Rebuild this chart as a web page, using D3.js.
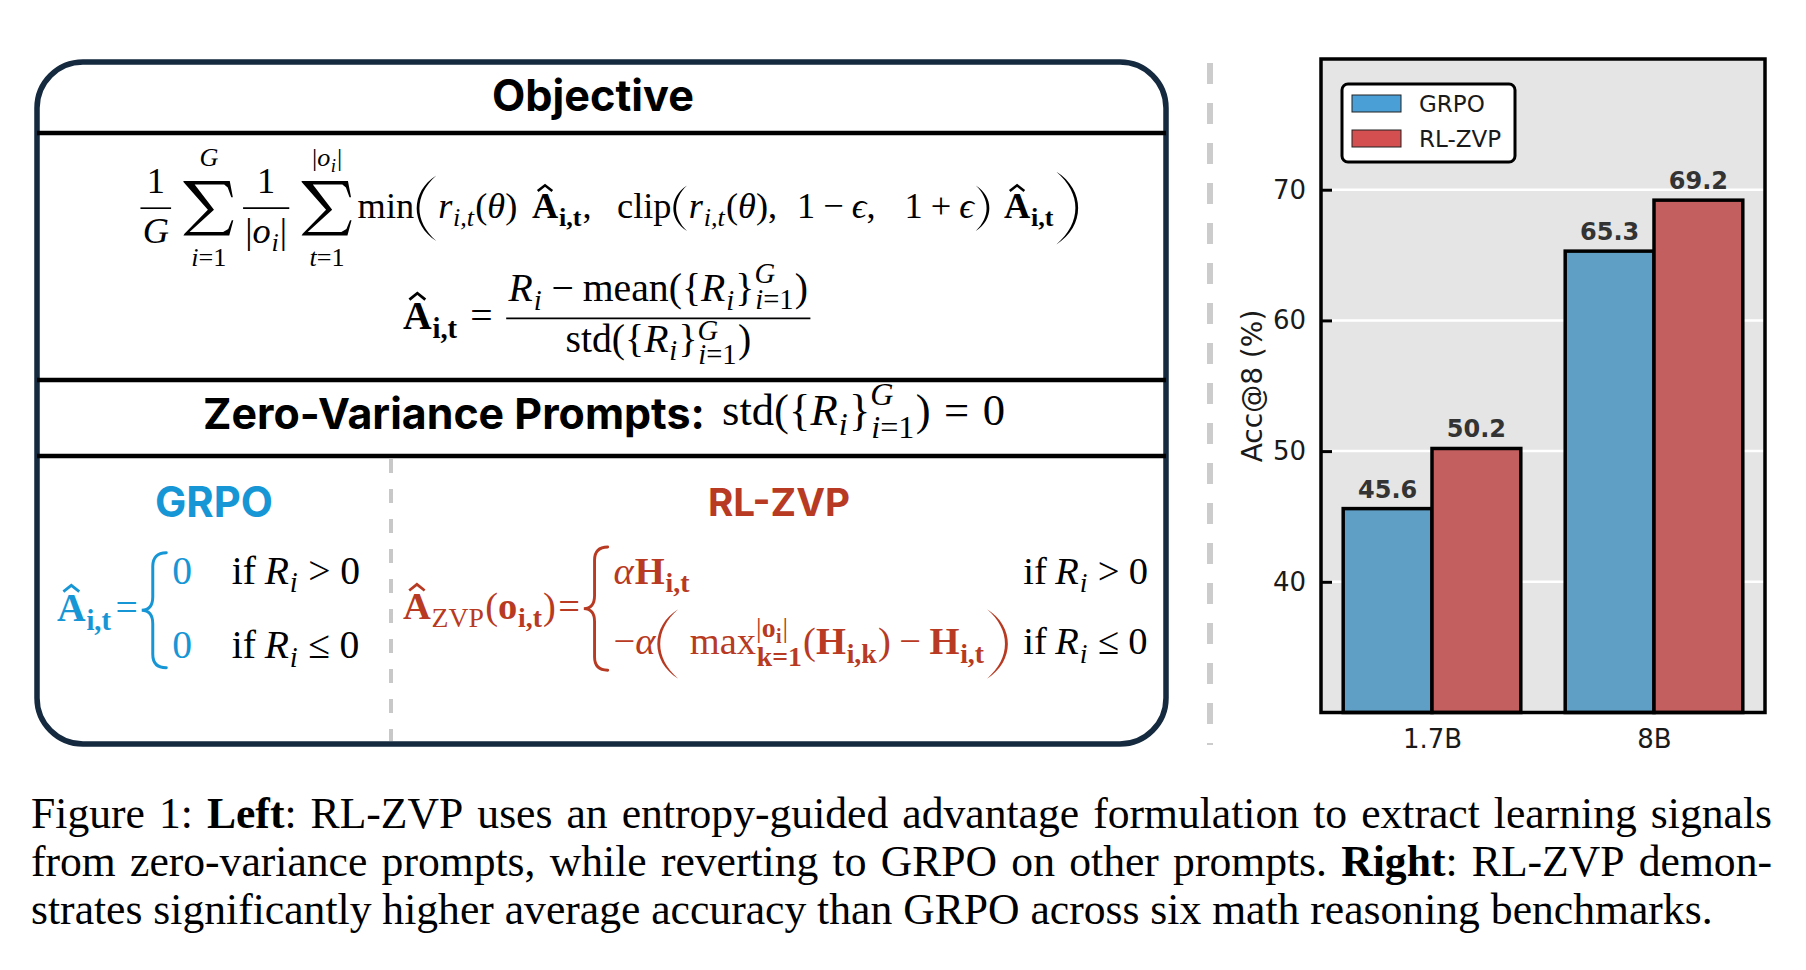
<!DOCTYPE html>
<html><head><meta charset="utf-8">
<script src="https://cdn.jsdelivr.net/npm/d3@7"></script>
<style>html,body{margin:0;padding:0;background:#fff;} svg{display:block;}</style>
</head><body>
<script>
// ---------------- data ----------------
const categories = ["1.7B", "8B"];
const seriesNames = ["GRPO", "RL-ZVP"];
const grpoValues = [45.6, 65.3];
const rlzvpValues = [50.2, 69.2];
const yTickValues = [40, 50, 60, 70];
const yDomain = [30, 80];
const yLabel = "Acc@8 (%)";
const captionLines = [
  "Figure 1: **Left**: RL-ZVP uses an entropy-guided advantage formulation to extract learning signals",
  "from zero-variance prompts, while reverting to GRPO on other prompts. **Right**: RL-ZVP demon-",
  "strates significantly higher average accuracy than GRPO across six math reasoning benchmarks."
];

// ---------------- setup ----------------
const W = 1806, H = 970;
const svg = d3.select("body").append("svg").attr("width", W).attr("height", H);
svg.append("rect").attr("width", W).attr("height", H).attr("fill", "#fff");

const MF = "'Liberation Serif','DejaVu Serif','Times New Roman',serif";
const SF = "Inter,'Liberation Sans',Arial,sans-serif";
const CF = "'DejaVu Sans',sans-serif";
const S = 28, AX = 0.27, SCR = 0.72;
const BLUE = "#1796d6", RED = "#b83a22";

// ---------------- mini math layout ----------------
function txt(g, s, x, y, sz, st, col) {
  const t = g.append("text").attr("x", x).attr("y", y)
    .attr("font-family", MF).attr("font-size", sz).attr("fill", col).text(s);
  if (st === "i" || st === "bi") t.attr("font-style", "italic");
  if (st === "b" || st === "bi") t.attr("font-weight", "bold");
  return t.node().getComputedTextLength();
}
function parenPath(dw, h, tk) {
  const co = -dw / 3, ci = (4 * tk - dw) / 3;
  return `M${dw},${-h/2} C${co},${-h*0.25} ${co},${h*0.25} ${dw},${h/2} C${ci},${h*0.2} ${ci},${-h*0.2} ${dw},${-h/2} Z`;
}
function bracePath(bw, h) {
  const m = bw * 0.45, r = bw * 0.55;
  return `M${bw},${-h/2} Q${m},${-h/2} ${m},${-h/2 + r} L${m},${-r} Q${m},0 0,0 Q${m},0 ${m},${r} L${m},${h/2 - r} Q${m},${h/2} ${bw},${h/2}`;
}
const SIGMA = [[0,0],[0.91,0],[0.97,0.30],[0.94,0.30],[0.87,0.12],[0.80,0.065],[0.22,0.065],[0.60,0.53],
  [0.12,0.935],[0.78,0.935],[0.88,0.88],[0.95,0.72],[0.98,0.72],[0.90,1],[0,1],[0.02,0.97],[0.48,0.53],[0,0.02]];
function lay(g, items, x, y, sz, col) {
  let cx = x;
  for (const it of items) {
    if (typeof it === "string") { cx += txt(g, it, cx, y, sz, "", col); continue; }
    const c = it.c || col;
    if (it.s !== undefined) { cx += it.s * sz; continue; }
    if (it.i !== undefined) { cx += txt(g, it.i, cx, y, sz, "i", c); continue; }
    if (it.b !== undefined) { cx += txt(g, it.b, cx, y, sz, "b", c); continue; }
    if (it.hat !== undefined) {
      const w = txt(g, it.hat, cx, y, sz, "b", c);
      const hx = cx + w / 2;
      g.append("path")
        .attr("d", `M${hx - 0.2*sz},${y - 0.74*sz} L${hx},${y - 0.9*sz} L${hx + 0.2*sz},${y - 0.74*sz}`)
        .attr("fill", "none").attr("stroke", c).attr("stroke-width", 0.07 * sz);
      cx += w; continue;
    }
    if (it.sub || it.sup) {
      const ss = sz * SCR;
      let w1 = 0, w2 = 0;
      const up = it.up !== undefined ? it.up : (it.sub ? 0.45 : 0.42);
      const dn = it.dn !== undefined ? it.dn : (it.sup ? 0.3 : 0.22);
      if (it.sup) w1 = lay(g, it.sup, cx, y - up * sz, ss, c);
      if (it.sub) w2 = lay(g, it.sub, cx + 0.02 * sz, y + dn * sz, ss, c) + 0.02 * sz;
      cx += Math.max(w1, w2) + 0.03 * sz; continue;
    }
    if (it.frac) {
      const yb = y - AX * sz;
      const gn = g.append("g"), gd = g.append("g");
      const wn = lay(gn, it.frac[0], 0, yb - (it.n || 0.42) * sz, sz, c);
      const wd = lay(gd, it.frac[1], 0, yb + (it.d || 0.95) * sz, sz, c);
      const pad = 0.1 * sz, w = Math.max(wn, wd) + 2 * pad;
      gn.attr("transform", `translate(${cx + (w - wn) / 2},0)`);
      gd.attr("transform", `translate(${cx + (w - wd) / 2},0)`);
      g.append("line").attr("x1", cx + pad * 0.4).attr("x2", cx + w - pad * 0.4)
        .attr("y1", yb).attr("y2", yb).attr("stroke", c).attr("stroke-width", 0.045 * sz);
      cx += w; continue;
    }
    if (it.sum) {
      const yb = y - AX * sz, sw = 1.4 * sz, sh = 1.5 * sz;
      const gt = g.append("g"), gb = g.append("g");
      const wt = lay(gt, it.top, 0, yb - 1.16 * sz, SCR * sz, c);
      const wb = lay(gb, it.bot, 0, yb + 1.58 * sz, SCR * sz, c);
      const w = Math.max(sw, wt, wb);
      const sx0 = cx + (w - sw) / 2, sy0 = yb - sh / 2;
      g.append("path").attr("fill", c)
        .attr("d", "M" + SIGMA.map(p => `${sx0 + p[0] * sw},${sy0 + p[1] * sh}`).join("L") + "Z");
      gt.attr("transform", `translate(${cx + (w - wt) / 2},0)`);
      gb.attr("transform", `translate(${cx + (w - wb) / 2},0)`);
      cx += w; continue;
    }
    if (it.paren) {
      const h = it.h * sz, dw = 0.3 * h, tk = 0.075 * sz, yb = y - AX * sz;
      const x0 = cx + 0.05 * sz;
      const p = g.append("path").attr("d", parenPath(dw, h, tk)).attr("fill", c);
      if (it.paren === "(") p.attr("transform", `translate(${x0},${yb})`);
      else p.attr("transform", `translate(${x0 + dw},${yb}) scale(-1,1)`);
      cx += dw + 0.1 * sz; continue;
    }
    if (it.cases) {
      const yb = y - AX * sz, h = it.h * sz, bw = 0.62 * sz;
      const x0 = cx + 0.05 * sz;
      g.append("path").attr("d", bracePath(bw, h)).attr("transform", `translate(${x0},${yb})`)
        .attr("fill", "none").attr("stroke", c).attr("stroke-width", 0.075 * sz)
        .attr("stroke-linecap", "round");
      const lx = x0 + bw + it.gap0 * sz;
      const n = it.rows.length;
      const rowY = i => y + (i - (n - 1) / 2) * 2 * it.rs * sz;
      let maxL = 0;
      it.rows.forEach((r, i) => { maxL = Math.max(maxL, lay(g, r.l, lx, rowY(i), sz, c)); });
      const rx = lx + maxL + it.gap * sz;
      let maxR = 0;
      it.rows.forEach((r, i) => { maxR = Math.max(maxR, lay(g, r.r, rx, rowY(i), sz, it.rc || c)); });
      cx = rx + maxR; continue;
    }
    if (it.grp) { cx += lay(g, it.grp, cx, y, sz, c); continue; }
  }
  return cx - x;
}
function formula(items, x0, x1, yb, col) {
  const g = svg.append("g");
  const w = lay(g, items, 0, 0, S, col);
  const k = (x1 - x0) / w;
  g.attr("transform", `translate(${x0},${yb}) scale(${k})`);
  return g;
}
function fitText(sel, width) {
  const w = sel.node().getComputedTextLength();
  sel.attr("font-size", +sel.attr("font-size") * width / w);
  return sel;
}

// ---------------- left panel box ----------------
const bx0 = 37, bx1 = 1166, by0 = 62, by1 = 744;
svg.append("rect").attr("x", bx0).attr("y", by0).attr("width", bx1 - bx0).attr("height", by1 - by0)
  .attr("rx", 46).attr("fill", "#fff").attr("stroke", "#15293f").attr("stroke-width", 5.5);
[133, 380, 456].forEach(yy => {
  svg.append("line").attr("x1", bx0).attr("x2", bx1).attr("y1", yy).attr("y2", yy)
    .attr("stroke", "#000").attr("stroke-width", 4.5);
});
svg.append("line").attr("x1", 391).attr("x2", 391).attr("y1", 459).attr("y2", 741)
  .attr("stroke", "#c8c8c8").attr("stroke-width", 4).attr("stroke-dasharray", "14,16");

// titles
const tObj = svg.append("text").attr("x", 593).attr("y", 111).attr("text-anchor", "middle")
  .attr("font-family", SF).attr("font-weight", 700).attr("font-size", 42).attr("fill", "#000").text("Objective");
fitText(tObj, 202);
const tZ = svg.append("text").attr("x", 203).attr("y", 429)
  .attr("font-family", SF).attr("font-weight", 700).attr("font-size", 33).attr("fill", "#000").text("Zero-Variance Prompts:");
fitText(tZ, 502);
const tG = svg.append("text").attr("x", 155).attr("y", 517)
  .attr("font-family", SF).attr("font-weight", 700).attr("font-size", 35).attr("fill", BLUE).text("GRPO");
fitText(tG, 118);
const tR = svg.append("text").attr("x", 708).attr("y", 516)
  .attr("font-family", SF).attr("font-weight", 700).attr("font-size", 35).attr("fill", RED).text("RL-ZVP");
fitText(tR, 142);

// formulas
const Ri = [{ i: "R" }, { sub: [{ i: "i" }] }];
const subIT = { sub: [{ b: "i,t" }] };
const rit = [{ i: "r" }, { sub: [{ i: "i,t" }] }, "(", { i: "θ" }, ")"];
const absO = ["|", { i: "o" }, { sub: [{ i: "i" }] }, "|"];
const scr = { sup: [{ i: "G" }], sub: [{ i: "i" }, "=1"] };
const setR = [{ i: "R" }, { sub: [{ i: "i" }] }, "}", scr];

formula([
  { frac: [["1"], [{ i: "G" }]] }, { s: 0.3 },
  { sum: 1, top: [{ i: "G" }], bot: [{ i: "i" }, "=1"] }, { s: 0.2 },
  { frac: [["1"], absO] }, { s: 0.3 },
  { sum: 1, top: absO, bot: [{ i: "t" }, "=1"] }, { s: 0.14 },
  "min", { s: 0.02 }, { paren: "(", h: 1.8 },
  ...rit, { s: 0.4 }, { hat: "A" }, subIT, ",", { s: 0.7 },
  "clip", { paren: "(", h: 1.25 }, ...rit, ",", { s: 0.55 },
  "1", { s: 0.22 }, "−", { s: 0.22 }, { i: "ϵ" }, ",", { s: 0.8 },
  "1", { s: 0.22 }, "+", { s: 0.22 }, { i: "ϵ" }, { paren: ")", h: 1.25 }, { s: 0.35 },
  { hat: "A" }, subIT, { paren: ")", h: 2.0 }
], 139, 1080, 218, "#000");

formula([
  { hat: "A" }, subIT, { s: 0.3 }, "=", { s: 0.3 },
  { frac: [
      [...Ri, { s: 0.22 }, "−", { s: 0.22 }, "mean({", { i: "R" }, { sub: [{ i: "i" }] }, "}", { ...scr, up: 0.45, dn: 0.2 }, ")"],
      ["std({", { i: "R" }, { sub: [{ i: "i" }] }, "}", { ...scr, up: 0.3, dn: 0.3 }, ")"]
    ], n: 0.43, d: 0.84 }
], 403, 812, 329, "#000");

formula(["std({", ...setR, ")", { s: 0.3 }, "=", { s: 0.3 }, "0"], 722, 1005, 425, "#000");

const ifRow = op => ["if", { s: 0.22 }, ...Ri, { s: 0.24 }, op, { s: 0.24 }, "0"];
formula([
  { hat: "A" }, subIT, { s: 0.08 }, "=", { s: 0.05 },
  { cases: 1, h: 2.9, rs: 0.94, gap0: 0.15, gap: 1.0, rc: "#000",
    rows: [{ l: ["0"], r: ifRow(">") }, { l: ["0"], r: ifRow("≤") }] }
], 57, 360, 621, BLUE);

formula([
  { hat: "A" }, { sub: ["ZVP"] }, "(", { b: "o" }, subIT, ")", { s: 0.06 }, "=", { s: 0.05 },
  { cases: 1, h: 3.2, rs: 0.92, gap0: 0.15, gap: 0.35, rc: "#000",
    rows: [
      { l: [{ i: "α" }, { s: 0.03 }, { b: "H" }, subIT], r: ifRow(">") },
      { l: ["−", { i: "α" }, { paren: "(", h: 1.8 }, { s: 0.25 }, "max",
            { sup: ["|", { b: "o" }, { sub: [{ b: "i" }] }, "|"], sub: [{ b: "k=1" }] },
            "(", { b: "H" }, { sub: [{ b: "i,k" }] }, ")", { s: 0.22 }, "−", { s: 0.22 },
            { b: "H" }, subIT, { paren: ")", h: 1.8 }], r: ifRow("≤") }
    ] }
], 403, 1148, 619, RED);

// separator
svg.append("line").attr("x1", 1210).attr("x2", 1210).attr("y1", 63).attr("y2", 745)
  .attr("stroke", "#cccccc").attr("stroke-width", 6).attr("stroke-dasharray", "21,19");

// ---------------- bar chart ----------------
const ax0 = 1321, ax1 = 1765, ay0 = 59, ay1 = 712.5;
const x = d3.scaleLinear().domain([-0.5, categories.length - 0.5]).range([ax0, ax1]);
const y = d3.scaleLinear().domain(yDomain).range([ay1, ay0]);
const barW = 0.4;
const ch = svg.append("g");
ch.append("rect").attr("x", ax0).attr("y", ay0).attr("width", ax1 - ax0).attr("height", ay1 - ay0).attr("fill", "#e5e5e5");
ch.selectAll(".grid").data(yTickValues).join("line").attr("class", "grid")
  .attr("x1", ax0).attr("x2", ax1).attr("y1", d => y(d)).attr("y2", d => y(d))
  .attr("stroke", "#fff").attr("stroke-width", 2.5);

const seriesData = [
  { name: seriesNames[0], values: grpoValues, off: -barW, fill: "#5f9fc5", lfill: "#4a9fd6" },
  { name: seriesNames[1], values: rlzvpValues, off: 0, fill: "#c45f5f", lfill: "#d44f4f" }
];
seriesData.forEach(s => {
  ch.selectAll(null).data(s.values).join("rect")
    .attr("x", (d, i) => x(i + s.off)).attr("y", d => y(d))
    .attr("width", (d, i) => x(i + s.off + barW) - x(i + s.off))
    .attr("height", d => y(yDomain[0]) - y(d))
    .attr("fill", s.fill).attr("stroke", "#000").attr("stroke-width", 3.5);
});
seriesData.forEach(s => {
  ch.selectAll(null).data(s.values).join("text")
    .attr("x", (d, i) => x(i + s.off + barW / 2)).attr("y", d => y(d) - 11)
    .attr("text-anchor", "middle").attr("font-family", CF).attr("font-weight", "bold")
    .attr("font-size", 24).attr("fill", "#333").text(d => d.toFixed(1));
});
ch.append("rect").attr("x", ax0).attr("y", ay0).attr("width", ax1 - ax0).attr("height", ay1 - ay0)
  .attr("fill", "none").attr("stroke", "#000").attr("stroke-width", 3.5);

const gy = ch.append("g").attr("transform", `translate(${ax0},0)`)
  .call(d3.axisLeft(y).tickValues(yTickValues).tickSize(-11).tickPadding(15));
gy.select(".domain").remove();
gy.selectAll(".tick line").attr("stroke", "#000").attr("stroke-width", 3);
gy.selectAll(".tick text").attr("font-family", CF).attr("font-size", 26).attr("fill", "#1a1a1a");

const gx = ch.append("g").attr("transform", `translate(0,${ay1})`)
  .call(d3.axisBottom(x).tickValues(categories.map((c, i) => i)).tickFormat(i => categories[i]).tickSize(0).tickPadding(17));
gx.select(".domain").remove();
gx.selectAll(".tick text").attr("font-family", CF).attr("font-size", 26).attr("fill", "#1a1a1a");

ch.append("text").attr("transform", `translate(1262,386) rotate(-90)`).attr("text-anchor", "middle")
  .attr("font-family", CF).attr("font-size", 28).attr("fill", "#1a1a1a").text(yLabel);

// legend
const lg = ch.append("g");
lg.append("rect").attr("x", 1342).attr("y", 84).attr("width", 173).attr("height", 78).attr("rx", 6)
  .attr("fill", "#fff").attr("stroke", "#000").attr("stroke-width", 3);
lg.selectAll(null).data(seriesData).join("rect")
  .attr("x", 1352).attr("y", (d, i) => 95 + i * 35).attr("width", 49).attr("height", 17)
  .attr("fill", d => d.lfill).attr("stroke", "#222").attr("stroke-width", 1);
lg.selectAll(null).data(seriesData).join("text")
  .attr("x", 1419).attr("y", (d, i) => 112 + i * 35)
  .attr("font-family", CF).attr("font-size", 23).attr("fill", "#1a1a1a").text(d => d.name);

// ---------------- caption ----------------
const capX0 = 31, capX1 = 1772, capY = [828, 876, 924];
function parseWords(line) {
  return line.split(" ").filter(w => w.length).map(w => {
    const segs = [];
    w.split(/(\*\*[^*]+\*\*)/).forEach(p => {
      if (!p) return;
      if (p.startsWith("**")) segs.push({ t: p.slice(2, -2), b: true });
      else segs.push({ t: p, b: false });
    });
    return segs;
  });
}
const capG = svg.append("g");
const lines = captionLines.map((line, li) => {
  return parseWords(line).map(segs => {
    const t = capG.append("text").attr("y", capY[li]).attr("font-family", MF).attr("font-size", 38).attr("fill", "#000");
    segs.forEach(s => t.append("tspan").attr("font-weight", s.b ? "bold" : "normal").text(s.t));
    return t;
  });
});
const last = lines[lines.length - 1];
const wLast = d3.sum(last, t => t.node().getComputedTextLength());
const targetLast = 1713 - capX0;
const fs = 38 * targetLast / (wLast + 0.25 * 38 * (last.length - 1));
lines.forEach((words, li) => {
  words.forEach(t => t.attr("font-size", fs));
  const ws = words.map(t => t.node().getComputedTextLength());
  const tot = d3.sum(ws);
  const gap = li < lines.length - 1 ? (capX1 - capX0 - tot) / (words.length - 1) : 0.25 * fs;
  let cx = capX0;
  words.forEach((t, i) => { t.attr("x", cx); cx += ws[i] + gap; });
});
</script>
</body></html>
